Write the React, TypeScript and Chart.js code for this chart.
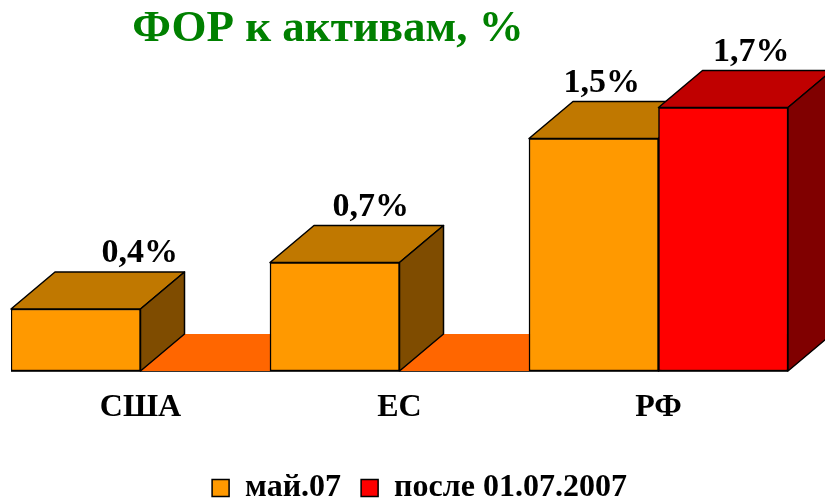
import { useEffect, useRef } from 'react';
import { Chart, registerables } from 'chart.js';

Chart.register(...registerables);

// ---- data ----
const categories = ['США', 'ЕС', 'РФ'];
const seriesNames = ['май.07', 'после 01.07.2007'];
const mayValues = [0.4, 0.7, 1.5];
const afterValues = [0, 0, 1.7];
const titleText = 'ФОР к активам, %';

// ---- style ----
const FONT = "'Liberation Serif', 'Times New Roman', serif";
const DX = 44;
const DY = 37;
const palettes = [
  { front: '#FF9900', top: '#C07800', side: '#7F4C00' },
  { front: '#FF0000', top: '#C00000', side: '#800000' },
];
const FLOOR = '#FF6600';
const LABEL_NUDGE = [
  [42, 14, -14],
  [0, 0, 6],
];
const TITLE_X = 328;
const TITLE_Y = 41;
const LEGEND_SHIFT = 20;

function polygon(ctx: CanvasRenderingContext2D, pts: number[][], fill: string) {
  ctx.beginPath();
  ctx.moveTo(pts[0][0], pts[0][1]);
  for (let i = 1; i < pts.length; i++) ctx.lineTo(pts[i][0], pts[i][1]);
  ctx.closePath();
  ctx.fillStyle = fill;
  ctx.fill();
  ctx.strokeStyle = '#000';
  ctx.lineWidth = 1.5;
  ctx.lineJoin = 'round';
  ctx.stroke();
}

const threeD = {
  id: 'threeD',
  afterLayout(chart: any) {
    if (chart.legend) {
      chart.legend.left += LEGEND_SHIFT;
      chart.legend.right += LEGEND_SHIFT;
    }
  },
  beforeDatasetsDraw(chart: any) {
    const { ctx, chartArea } = chart;
    const yBase = chart.scales.y.getPixelForValue(0);
    ctx.save();
    ctx.beginPath();
    ctx.moveTo(chartArea.left, yBase);
    ctx.lineTo(chartArea.right, yBase);
    ctx.lineTo(chartArea.right + DX, yBase - DY);
    ctx.lineTo(chartArea.left + DX, yBase - DY);
    ctx.closePath();
    ctx.fillStyle = FLOOR;
    ctx.fill();
    ctx.strokeStyle = '#333';
    ctx.lineWidth = 1;
    ctx.beginPath();
    ctx.moveTo(chartArea.left, yBase + 0.5);
    ctx.lineTo(chartArea.right, yBase + 0.5);
    ctx.stroke();
    chart.data.datasets.forEach((ds: any, di: number) => {
      const meta = chart.getDatasetMeta(di);
      meta.data.forEach((bar: any, i: number) => {
        const v = ds.data[i];
        if (!v) return;
        const { x, y, base, width } = bar.getProps(['x', 'y', 'base', 'width'], true);
        const l = x - width / 2;
        const r = x + width / 2;
        polygon(ctx, [[l, y], [r, y], [r + DX, y - DY], [l + DX, y - DY]], palettes[di].top);
        polygon(ctx, [[r, y], [r + DX, y - DY], [r + DX, base - DY], [r, base]], palettes[di].side);
      });
    });
    ctx.restore();
  },
  afterDatasetsDraw(chart: any) {
    const { ctx } = chart;
    ctx.save();
    ctx.font = `bold 34px ${FONT}`;
    ctx.fillStyle = '#000';
    ctx.textAlign = 'center';
    ctx.textBaseline = 'alphabetic';
    chart.data.datasets.forEach((ds: any, di: number) => {
      const meta = chart.getDatasetMeta(di);
      meta.data.forEach((bar: any, i: number) => {
        const v = ds.data[i];
        if (!v) return;
        const { x, y } = bar.getProps(['x', 'y'], true);
        const txt = v.toFixed(1).replace('.', ',') + '%';
        ctx.fillText(txt, x + DX / 2 + LABEL_NUDGE[di][i], y - DY - 10);
      });
    });
    ctx.font = `bold 45px ${FONT}`;
    ctx.fillStyle = '#008000';
    ctx.fillText(titleText, TITLE_X, TITLE_Y);
    ctx.restore();
  },
};

export default function App() {
  const ref = useRef<HTMLCanvasElement>(null);
  useEffect(() => {
    document.body.style.margin = '0';
    const chart = new Chart(ref.current!, {
      type: 'bar',
      data: {
        labels: categories,
        datasets: [
          {
            label: seriesNames[0],
            data: mayValues,
            backgroundColor: palettes[0].front,
            borderColor: '#000',
            borderWidth: 1.5,
            borderSkipped: false,
            categoryPercentage: 1,
            barPercentage: 1,
          },
          {
            label: seriesNames[1],
            data: afterValues,
            backgroundColor: palettes[1].front,
            borderColor: '#000',
            borderWidth: 1.5,
            borderSkipped: false,
            categoryPercentage: 1,
            barPercentage: 1,
          },
        ],
      },
      options: {
        responsive: false,
        animation: false,
        events: [],
        layout: { padding: { top: 61, left: 11, right: 37, bottom: -11 } },
        scales: {
          x: {
            grid: { display: false, drawTicks: false },
            border: { display: false },
            ticks: {
              color: '#000',
              padding: 18,
              font: { family: FONT, size: 32, weight: 'bold' },
            },
            afterFit: (s: any) => {
              s.height = 81;
            },
          },
          y: { display: false, min: 0, max: 2 },
        },
        plugins: {
          legend: {
            position: 'bottom',
            labels: {
              boxWidth: 17,
              boxHeight: 17,
              padding: 20,
              color: '#000',
              font: { family: FONT, size: 32, weight: 'bold' },
            },
          },
          title: { display: false },
          tooltip: { enabled: false },
        },
      } as any,
      plugins: [threeD],
    });
    return () => chart.destroy();
  }, []);
  return (
    <div style={{ width: 825, height: 503, background: '#fff' }}>
      <canvas ref={ref} width={825} height={503} style={{ display: 'block' }} />
    </div>
  );
}
